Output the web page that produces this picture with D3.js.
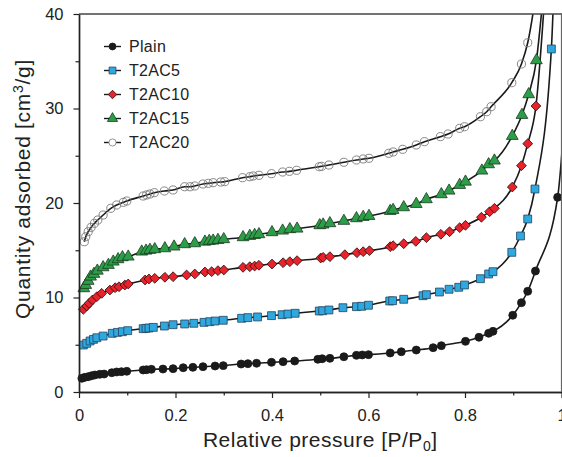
<!DOCTYPE html>
<html>
<head>
<meta charset="utf-8">
<script src="https://cdn.jsdelivr.net/npm/d3@7/dist/d3.min.js"></script>
<style>
  html, body { margin: 0; padding: 0; background: #fff; }
  svg { display: block; font-family: "Liberation Sans", Arial, sans-serif; }
</style>
</head>
<body>
<svg id="chart" width="562" height="457"></svg>
<script>
// ---- data (relative pressure P/P0, quantity adsorbed cm3/g) ----
const seriesNames = ["Plain", "T2AC5", "T2AC10", "T2AC15", "T2AC20"];

const plain = [[0.006,1.45],[0.012,1.55],[0.019,1.62],[0.026,1.72],[0.033,1.80],[0.043,1.87],[0.052,1.90],[0.068,2.04],[0.078,2.12],[0.088,2.15],[0.099,2.19],[0.133,2.33],[0.140,2.36],[0.150,2.40],[0.174,2.43],[0.195,2.47],[0.216,2.57],[0.236,2.61],[0.257,2.68],[0.282,2.75],[0.299,2.79],[0.336,2.96],[0.350,3.00],[0.368,3.04],[0.399,3.14],[0.423,3.21],[0.447,3.28],[0.495,3.46],[0.504,3.52],[0.520,3.56],[0.549,3.73],[0.575,3.88],[0.587,3.92],[0.600,3.95],[0.645,4.13],[0.668,4.26],[0.699,4.44],[0.734,4.69],[0.751,4.90],[0.801,5.36],[0.829,5.79],[0.849,6.21],[0.858,6.42],[0.899,8.12],[0.917,9.45],[0.930,10.66],[0.946,12.80],[0.992,20.6]];

const t2ac5 = [[0.009,4.97],[0.016,5.15],[0.023,5.40],[0.030,5.57],[0.037,5.74],[0.050,5.92],[0.069,6.21],[0.080,6.31],[0.090,6.38],[0.101,6.49],[0.133,6.70],[0.139,6.74],[0.145,6.77],[0.154,6.84],[0.177,6.98],[0.195,7.12],[0.219,7.20],[0.238,7.27],[0.259,7.37],[0.271,7.44],[0.282,7.51],[0.299,7.59],[0.337,7.80],[0.350,7.87],[0.370,7.94],[0.399,8.08],[0.421,8.18],[0.433,8.25],[0.448,8.33],[0.498,8.57],[0.505,8.60],[0.518,8.68],[0.547,8.92],[0.575,9.03],[0.586,9.07],[0.600,9.18],[0.644,9.63],[0.650,9.66],[0.673,9.81],[0.713,10.19],[0.720,10.30],[0.747,10.58],[0.767,10.87],[0.787,11.08],[0.799,11.32],[0.832,11.99],[0.849,12.49],[0.858,12.73],[0.897,14.78],[0.915,16.51],[0.930,18.31],[0.945,21.48],[0.979,36.3]];

const t2ac10 = [[0.009,8.75],[0.016,9.10],[0.021,9.38],[0.028,9.74],[0.037,10.09],[0.047,10.44],[0.064,10.79],[0.075,11.04],[0.083,11.14],[0.095,11.32],[0.102,11.43],[0.137,11.85],[0.145,11.96],[0.157,12.03],[0.178,12.14],[0.195,12.20],[0.223,12.38],[0.240,12.49],[0.261,12.70],[0.275,12.73],[0.288,12.84],[0.300,12.91],[0.340,13.19],[0.354,13.26],[0.364,13.33],[0.373,13.41],[0.400,13.54],[0.423,13.68],[0.437,13.79],[0.452,13.90],[0.501,14.18],[0.506,14.25],[0.520,14.32],[0.551,14.53],[0.576,14.74],[0.589,14.85],[0.602,14.95],[0.645,15.38],[0.651,15.48],[0.673,15.69],[0.698,15.94],[0.720,16.33],[0.750,16.69],[0.768,16.96],[0.789,17.39],[0.801,17.64],[0.834,18.49],[0.851,19.08],[0.861,19.44],[0.898,21.69],[0.917,23.95],[0.930,26.28],[0.947,30.26]];

const t2ac15 = [[0.010,10.97],[0.014,11.32],[0.019,11.75],[0.024,12.20],[0.031,12.49],[0.038,12.83],[0.050,13.19],[0.061,13.44],[0.071,13.79],[0.081,14.04],[0.090,14.25],[0.102,14.32],[0.130,14.85],[0.139,14.95],[0.147,15.03],[0.157,15.10],[0.178,15.20],[0.197,15.38],[0.219,15.63],[0.240,15.73],[0.261,15.90],[0.270,15.98],[0.278,16.01],[0.288,16.08],[0.300,16.16],[0.340,16.37],[0.354,16.51],[0.364,16.61],[0.373,16.69],[0.400,16.90],[0.422,17.07],[0.437,17.22],[0.452,17.28],[0.499,17.64],[0.506,17.71],[0.520,17.85],[0.549,18.10],[0.575,18.38],[0.589,18.52],[0.601,18.62],[0.645,19.15],[0.651,19.26],[0.673,19.54],[0.699,19.89],[0.720,20.39],[0.751,20.92],[0.767,21.30],[0.789,21.90],[0.801,22.25],[0.835,23.42],[0.849,24.09],[0.861,24.48],[0.898,27.09],[0.918,29.31],[0.932,31.5],[0.948,35.1]];

const t2ac20 = [[0.011,15.90],[0.014,16.43],[0.019,16.96],[0.025,17.42],[0.032,17.85],[0.039,18.20],[0.050,18.73],[0.066,19.44],[0.078,19.79],[0.092,20.07],[0.099,20.21],[0.133,20.74],[0.140,20.85],[0.147,20.95],[0.156,21.09],[0.177,21.27],[0.195,21.38],[0.219,21.72],[0.230,21.72],[0.240,21.80],[0.257,22.01],[0.268,22.08],[0.278,22.15],[0.294,22.22],[0.302,22.26],[0.339,22.68],[0.354,22.78],[0.361,22.86],[0.373,22.93],[0.399,23.10],[0.422,23.28],[0.436,23.35],[0.451,23.46],[0.498,23.84],[0.503,23.88],[0.518,24.02],[0.549,24.31],[0.575,24.55],[0.589,24.66],[0.601,24.73],[0.642,25.26],[0.651,25.40],[0.671,25.68],[0.699,26.14],[0.716,26.49],[0.749,27.02],[0.765,27.30],[0.789,27.90],[0.799,28.07],[0.832,29.13],[0.845,29.66],[0.854,30.19],[0.897,32.73],[0.917,34.71],[0.930,36.96]];

// fitted-curve continuation beyond the last measured point (leaves the frame)
const plainTail  = [[1.01, 32]];
const t2ac5Tail  = [[0.987, 47]];
const t2ac10Tail = [[0.968, 44]];
const t2ac15Tail = [[0.962, 42]];
const t2ac20Tail = [[0.955, 45]];

const xTicks = [0, 0.2, 0.4, 0.6, 0.8, 1];
const xMinorTicks = [0.1, 0.3, 0.5, 0.7, 0.9];
const yTicks = [0, 10, 20, 30, 40];
const yMinorTicks = [5, 15, 25, 35];

// ---- layout ----
const svg = d3.select("#chart");
const L = 79, R = 561.5, T = 14, B = 392;
const x = d3.scaleLinear().domain([0, 1]).range([L, R]);
const y = d3.scaleLinear().domain([0, 40]).range([B, T]);

const series = [
  { name: seriesNames[0], pts: plain,  tail: plainTail,  shape: "circle",   fill: "#1a1a1a", stroke: "#1a1a1a" },
  { name: seriesNames[1], pts: t2ac5,  tail: t2ac5Tail,  shape: "square",   fill: "#2fa8e0", stroke: "#23435a" },
  { name: seriesNames[2], pts: t2ac10, tail: t2ac10Tail, shape: "diamond",  fill: "#e8232b", stroke: "#2a1010" },
  { name: seriesNames[3], pts: t2ac15, tail: t2ac15Tail, shape: "triangle", fill: "#2c9e48", stroke: "#1d3a22" },
  { name: seriesNames[4], pts: t2ac20, tail: t2ac20Tail, shape: "circle",   fill: "#ffffff", stroke: "#7a7a7a", open: true }
];

const symbolSize = { circle: 50, square: 62, diamond: 48, triangle: 60 };
// diamond drawn as a square turned 45 degrees
const symType = { circle: d3.symbolCircle, square: d3.symbolSquare, diamond: d3.symbolSquare, triangle: d3.symbolTriangle };
const rot = shape => shape === "diamond" ? " rotate(45)" : "";

svg.append("defs").append("clipPath").attr("id", "plotclip")
  .append("rect").attr("x", L).attr("y", T).attr("width", R - L + 1).attr("height", B - T);

// curves
const line = d3.line().x(d => x(d[0])).y(d => y(d[1])).curve(d3.curveMonotoneX);
const curves = svg.append("g").attr("clip-path", "url(#plotclip)");
series.forEach(s => {
  curves.append("path")
    .attr("d", line(s.pts.concat(s.tail)))
    .attr("fill", "none").attr("stroke", "#1a1a1a").attr("stroke-width", 1.6);
});

// markers
const marks = svg.append("g");
series.forEach(s => {
  marks.append("g").selectAll("path").data(s.pts).join("path")
    .attr("transform", d => `translate(${x(d[0])},${y(d[1])})` + rot(s.shape))
    .attr("d", d3.symbol().type(symType[s.shape]).size(s.open ? 52 : symbolSize[s.shape]))
    .attr("fill", s.open ? "none" : s.fill)
    .attr("stroke", s.stroke)
    .attr("stroke-width", s.open ? 0.9 : 0.8);
});

// axes
const axisColor = "#222";
const gx = svg.append("g").attr("transform", `translate(0,${B})`)
  .call(d3.axisBottom(x).tickValues(xTicks).tickFormat(d3.format("~g")).tickSize(6).tickPadding(11).tickSizeOuter(0));
const gxm = svg.append("g").attr("transform", `translate(0,${B})`)
  .call(d3.axisBottom(x).tickValues(xMinorTicks).tickFormat("").tickSize(3.5).tickSizeOuter(0));
const gy = svg.append("g").attr("transform", `translate(${L},0)`)
  .call(d3.axisLeft(y).tickValues(yTicks).tickFormat(d3.format("d")).tickSize(5.5).tickPadding(10).tickSizeOuter(0));
const gym = svg.append("g").attr("transform", `translate(${L},0)`)
  .call(d3.axisLeft(y).tickValues(yMinorTicks).tickFormat("").tickSize(3.5).tickSizeOuter(0));

[gx, gxm, gy, gym].forEach(g => {
  g.selectAll(".domain").attr("stroke", axisColor).attr("stroke-width", 1.4);
  g.selectAll(".tick line").attr("stroke", axisColor).attr("stroke-width", 1.2);
  g.selectAll(".tick text").attr("fill", "#222").attr("font-size", 16.5)
    .attr("font-family", '"Liberation Sans", Arial, sans-serif');
});

// frame top / right
svg.append("line").attr("x1", L).attr("x2", R + 1).attr("y1", T).attr("y2", T)
  .attr("stroke", "#444").attr("stroke-width", 1.3);
svg.append("line").attr("x1", R).attr("x2", R).attr("y1", T).attr("y2", B)
  .attr("stroke", "#666").attr("stroke-width", 1.2);

// axis titles
const xt = svg.append("text").attr("x", (L + R) / 2).attr("y", 447)
  .attr("text-anchor", "middle").attr("font-size", 21).attr("letter-spacing", 0.5).attr("fill", "#222");
xt.append("tspan").text("Relative pressure [P/P");
xt.append("tspan").attr("font-size", 14).attr("dy", 4).text("0");
xt.append("tspan").attr("dy", -4).text("]");

const yt = svg.append("text").attr("transform", "translate(30,189) rotate(-90)")
  .attr("text-anchor", "middle").attr("font-size", 21).attr("letter-spacing", 0.7).attr("fill", "#222");
yt.append("tspan").text("Quantity adsorbed [cm");
yt.append("tspan").attr("font-size", 14).attr("dy", -7).text("3");
yt.append("tspan").attr("dy", 7).text("/g]");

// legend
const legend = svg.append("g");
series.forEach((s, i) => {
  const cy = 46.5 + i * 24;
  legend.append("line").attr("x1", 104).attr("x2", 121).attr("y1", cy).attr("y2", cy)
    .attr("stroke", "#1a1a1a").attr("stroke-width", 1.4);
  legend.append("path")
    .attr("transform", `translate(112.5,${cy})` + rot(s.shape))
    .attr("d", d3.symbol().type(symType[s.shape]).size(s.open ? 40 : symbolSize[s.shape] * 0.75))
    .attr("fill", s.open ? "#fff" : s.fill).attr("stroke", s.stroke).attr("stroke-width", 0.8);
  legend.append("text").attr("x", 129).attr("y", cy).attr("dy", "0.35em")
    .attr("font-size", 16).attr("letter-spacing", 0.3).attr("fill", "#222").text(s.name);
});
</script>
</body>
</html>
